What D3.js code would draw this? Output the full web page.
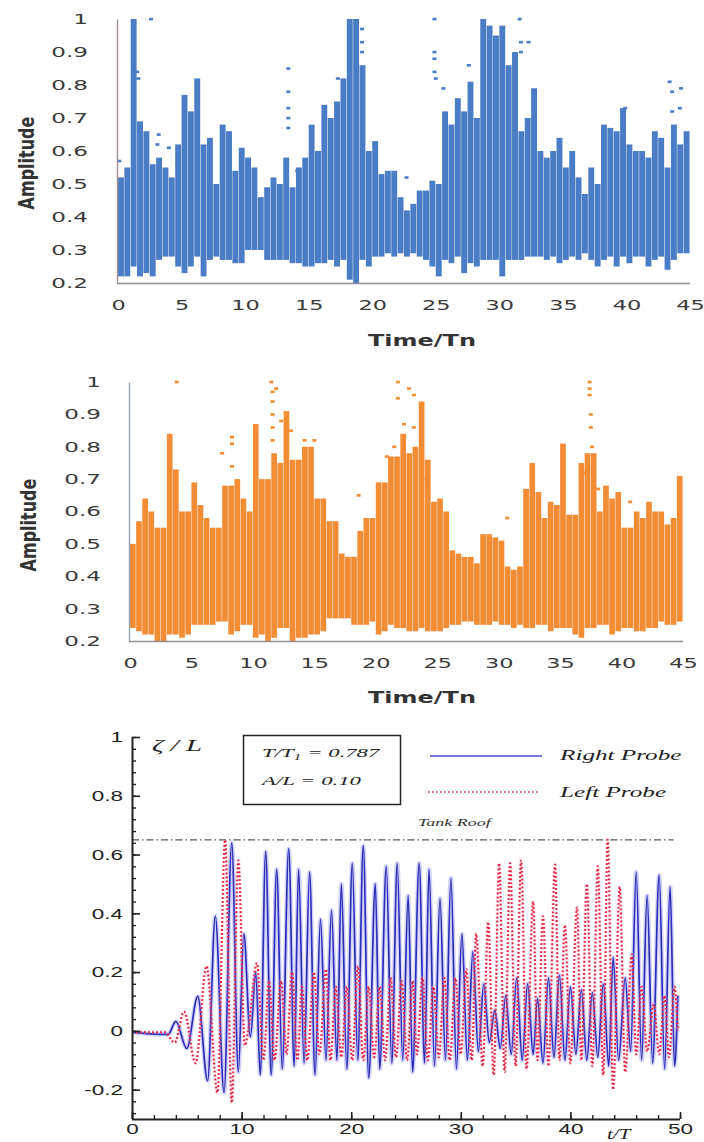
<!DOCTYPE html>
<html>
<head>
<meta charset="utf-8">
<script src="https://cdn.jsdelivr.net/npm/d3@7"></script>
<style>
  body { margin: 0; background: #fff; }
  svg { display: block; }
</style>
</head>
<body>
<svg id="chart" width="704" height="1142"></svg>
<script>
// ---- Amplitude records (sampled every half period, Time/Tn) ----
const sampleStep = 0.5;
const ampTime = d3.range(0, 45, sampleStep);

// upper panel (blue): column tops and bottoms
const blueHigh = [
  0.52, 0.55, 1.00, 0.69, 0.66, 0.56, 0.58, 0.55, 0.52, 0.62,
  0.77, 0.72, 0.82, 0.62, 0.64, 0.50, 0.68, 0.66, 0.54, 0.61,
  0.58, 0.55, 0.46, 0.49, 0.52, 0.50, 0.58, 0.49, 0.55, 0.58,
  0.68, 0.60, 0.74, 0.70, 0.75, 0.82, 1.00, 1.00, 0.86, 0.60,
  0.63, 0.53, 0.54, 0.54, 0.46, 0.42, 0.44, 0.48, 0.48, 0.51,
  0.50, 0.72, 0.68, 0.76, 0.72, 0.81, 0.70, 1.00, 0.98, 0.95,
  0.98, 0.86, 0.90, 0.66, 0.70, 0.79, 0.60, 0.58, 0.60, 0.64,
  0.55, 0.60, 0.52, 0.47, 0.55, 0.50, 0.68, 0.67, 0.66, 0.73,
  0.62, 0.60, 0.60, 0.58, 0.66, 0.64, 0.55, 0.68, 0.62, 0.66
];
const blueLow = [
  0.22, 0.22, 0.25, 0.22, 0.23, 0.22, 0.27, 0.28, 0.28, 0.25,
  0.23, 0.25, 0.28, 0.22, 0.27, 0.28, 0.27, 0.27, 0.26, 0.26,
  0.30, 0.30, 0.30, 0.27, 0.27, 0.27, 0.27, 0.26, 0.26, 0.25,
  0.25, 0.26, 0.26, 0.27, 0.25, 0.27, 0.21, 0.20, 0.27, 0.25,
  0.28, 0.28, 0.29, 0.28, 0.29, 0.28, 0.29, 0.28, 0.27, 0.25,
  0.22, 0.27, 0.26, 0.28, 0.23, 0.26, 0.25, 0.27, 0.27, 0.27,
  0.22, 0.27, 0.27, 0.27, 0.28, 0.28, 0.28, 0.27, 0.28, 0.26,
  0.27, 0.28, 0.27, 0.29, 0.27, 0.25, 0.27, 0.28, 0.25, 0.28,
  0.26, 0.28, 0.28, 0.25, 0.27, 0.28, 0.24, 0.27, 0.29, 0.29
];
// isolated samples above the columns [time, amplitude]
const blueSpikes = [
  [0.1, 0.57], [1.5, 0.84], [1.6, 0.82], [2.6, 1.0], [3.2, 0.65], [3.1, 0.62], [4.0, 0.61],
  [13.4, 0.85], [13.4, 0.78], [13.4, 0.73], [13.4, 0.70], [13.4, 0.67], [14.1, 0.54],
  [17.3, 0.82], [19.2, 0.97], [19.2, 0.93], [19.2, 0.90], [22.7, 0.52],
  [24.9, 1.0], [24.9, 0.90], [24.9, 0.88], [24.9, 0.84], [25.0, 0.82], [25.6, 0.79], [27.6, 0.86],
  [31.6, 1.0], [31.7, 0.93], [31.7, 0.90], [32.3, 0.93], [39.9, 0.73],
  [43.4, 0.81], [43.6, 0.78], [43.6, 0.72], [44.3, 0.79], [44.2, 0.73]
];

// middle panel (orange): column tops and bottoms
const orangeHigh = [
  0.50, 0.57, 0.64, 0.60, 0.55, 0.55, 0.84, 0.73, 0.60, 0.60,
  0.69, 0.62, 0.58, 0.55, 0.55, 0.68, 0.68, 0.70, 0.64, 0.60,
  0.87, 0.70, 0.70, 0.78, 0.75, 0.91, 0.76, 0.76, 0.80, 0.80,
  0.64, 0.64, 0.57, 0.57, 0.47, 0.46, 0.46, 0.54, 0.58, 0.58,
  0.69, 0.69, 0.77, 0.77, 0.84, 0.78, 0.80, 0.94, 0.76, 0.63,
  0.64, 0.60, 0.48, 0.47, 0.46, 0.46, 0.44, 0.53, 0.53, 0.52,
  0.51, 0.43, 0.42, 0.43, 0.67, 0.75, 0.66, 0.58, 0.63, 0.62,
  0.81, 0.59, 0.59, 0.75, 0.78, 0.78, 0.60, 0.68, 0.64, 0.66,
  0.55, 0.55, 0.60, 0.58, 0.63, 0.60, 0.60, 0.56, 0.58, 0.71
];
const orangeLow = [
  0.24, 0.23, 0.22, 0.22, 0.20, 0.20, 0.22, 0.22, 0.21, 0.22,
  0.25, 0.25, 0.25, 0.25, 0.26, 0.26, 0.22, 0.23, 0.25, 0.25,
  0.21, 0.22, 0.20, 0.21, 0.24, 0.24, 0.20, 0.21, 0.21, 0.22,
  0.22, 0.23, 0.27, 0.27, 0.27, 0.27, 0.25, 0.25, 0.25, 0.26,
  0.22, 0.23, 0.25, 0.24, 0.24, 0.23, 0.23, 0.24, 0.23, 0.23,
  0.23, 0.24, 0.25, 0.25, 0.26, 0.26, 0.25, 0.25, 0.25, 0.26,
  0.25, 0.25, 0.24, 0.25, 0.24, 0.24, 0.25, 0.25, 0.23, 0.24,
  0.24, 0.24, 0.22, 0.21, 0.24, 0.24, 0.25, 0.25, 0.22, 0.23,
  0.24, 0.24, 0.23, 0.23, 0.24, 0.24, 0.26, 0.25, 0.25, 0.26
];
const orangeSpikes = [
  [3.8, 1.0], [7.5, 0.78], [8.3, 0.83], [8.3, 0.81], [8.3, 0.74],
  [11.5, 1.0], [11.6, 0.97], [11.6, 0.94], [11.6, 0.90], [11.6, 0.86], [11.6, 0.82], [11.9, 0.98],
  [12.3, 0.88], [13.1, 0.85], [14.2, 0.82], [15.0, 0.82], [18.6, 0.65],
  [20.9, 0.77], [21.5, 0.80], [21.8, 1.0], [21.8, 0.95], [22.3, 0.87],
  [22.7, 0.98], [23.1, 0.96], [23.1, 0.86], [23.8, 0.70], [30.7, 0.58],
  [36.9, 0.72], [37.4, 1.0], [37.4, 0.98], [37.4, 0.96], [37.5, 0.90], [37.5, 0.86], [37.6, 0.80],
  [38.1, 0.67], [40.7, 0.63]
];

// ---- Free-surface elevation ζ/L at the probes: successive crests and troughs [t/T, ζ/L] ----
const rightProbe = [
  [0, -0.005], [2.6, -0.012], [3.3, -0.012], [4.0, 0.032], [5.0, -0.06], [6.0, 0.117],
  [6.9, -0.17], [7.6, 0.39], [8.4, -0.21], [9.1, 0.64], [9.7, -0.14], [10.2, 0.33],
  [10.8, -0.02], [11.3, 0.2], [11.7, -0.15], [12.2, 0.61], [12.7, -0.15], [13.2, 0.55],
  [13.7, -0.13], [14.3, 0.62], [14.8, -0.12], [15.2, 0.55], [15.7, -0.11], [16.2, 0.54],
  [16.7, -0.15], [17.2, 0.38], [17.7, -0.1], [18.2, 0.41], [18.7, -0.1], [19.1, 0.5],
  [19.6, -0.13], [20.1, 0.57], [20.6, -0.1], [21.1, 0.63], [21.6, -0.16], [22.2, 0.5],
  [22.6, -0.13], [23.2, 0.56], [23.7, -0.11], [24.2, 0.57], [24.7, -0.1], [25.2, 0.46],
  [25.6, -0.14], [26.2, 0.57], [26.7, -0.11], [27.1, 0.55], [27.6, -0.12], [28.1, 0.45],
  [28.6, -0.1], [29.1, 0.52], [29.6, -0.13], [30.1, 0.33], [30.6, -0.1], [31.1, 0.27],
  [31.6, -0.07], [32.1, 0.16], [32.6, -0.04], [33.1, 0.07], [33.6, -0.06], [34.1, 0.12],
  [34.6, -0.08], [35.1, 0.18], [35.6, -0.1], [36.1, 0.16], [36.6, -0.08], [37.0, 0.11],
  [37.5, -0.11], [38.0, 0.18], [38.5, -0.09], [39.0, 0.19], [39.5, -0.1], [40.0, 0.15],
  [40.5, -0.08], [41.0, 0.14], [41.5, -0.1], [42.0, 0.13], [42.5, -0.09], [43.0, 0.16],
  [43.5, -0.12], [43.9, 0.25], [44.4, -0.1], [45.0, 0.18], [45.5, -0.07], [46.0, 0.54],
  [46.5, -0.1], [47.0, 0.46], [47.5, -0.11], [48.1, 0.53], [48.6, -0.13], [49.1, 0.49],
  [49.5, -0.12], [49.8, 0.12]
];
const leftProbe = [
  [0, -0.005], [3.0, -0.005], [3.9, -0.04], [4.75, 0.065], [5.8, -0.11], [6.8, 0.22],
  [7.8, -0.21], [8.5, 0.65], [9.1, -0.245], [9.7, 0.58], [10.3, -0.05], [10.6, 0.0],
  [11.4, 0.23], [12.0, -0.1], [12.5, 0.17], [13.0, -0.1], [13.6, 0.17], [14.1, -0.08],
  [14.6, 0.2], [15.1, -0.1], [15.5, 0.15], [16.0, -0.1], [16.6, 0.2], [17.1, -0.08],
  [17.7, 0.21], [18.1, -0.1], [18.6, 0.15], [19.1, -0.09], [19.6, 0.15], [20.1, -0.1],
  [20.6, 0.22], [21.1, -0.1], [21.6, 0.15], [22.1, -0.09], [22.6, 0.15], [23.1, -0.1],
  [23.6, 0.18], [24.1, -0.09], [24.6, 0.17], [25.1, -0.1], [25.6, 0.17], [26.0, -0.08],
  [26.5, 0.18], [27.0, -0.1], [27.5, 0.15], [28.0, -0.09], [28.5, 0.18], [29.0, -0.1],
  [29.5, 0.18], [30.0, -0.08], [30.5, 0.21], [31.0, -0.1], [31.4, 0.33], [32.0, -0.12],
  [32.5, 0.37], [33.0, -0.15], [33.5, 0.57], [34.0, -0.14], [34.5, 0.57], [35.0, -0.12],
  [35.5, 0.58], [36.0, -0.13], [36.6, 0.44], [37.0, -0.1], [37.5, 0.39], [38.0, -0.12],
  [38.6, 0.565], [39.0, -0.1], [39.5, 0.36], [40.0, -0.11], [40.6, 0.42], [41.0, -0.1],
  [41.5, 0.5], [42.0, -0.12], [42.5, 0.56], [43.0, -0.15], [43.4, 0.65], [43.9, -0.2],
  [44.5, 0.49], [45.0, -0.14], [45.6, 0.26], [46.0, -0.08], [46.5, 0.15], [47.0, -0.07],
  [47.6, 0.09], [48.1, -0.08], [48.6, 0.12], [49.0, -0.09], [49.5, 0.15], [49.8, 0.0]
];
const tankRoof = 0.65;
const caseLabels = ["= 0.787", "A/L = 0.10"];
const probeNames = ["Right Probe", "Left Probe"];

// ---- tick values ----
const ampTicks = [0.2, 0.3, 0.4, 0.5, 0.6, 0.7, 0.8, 0.9, 1];
const timeTicks = [0, 5, 10, 15, 20, 25, 30, 35, 40, 45];
const zetaTicks = [-0.2, 0, 0.2, 0.4, 0.6, 0.8, 1];
const tTicks = [0, 10, 20, 30, 40, 50];

const svg = d3.select("#chart");
svg.append("rect").attr("width", 704).attr("height", 1142).attr("fill", "#fff");

const numFmt = d => String(Number((+d).toFixed(1)));

// wide text helper: horizontal stretch around the anchor point
function wideText(parent, str, x, y, sx, style) {
  const t = parent.append("text")
    .attr("transform", `translate(${x},${y}) scale(${sx},1)`)
    .text(str);
  Object.entries(style || {}).forEach(([k, v]) => t.attr(k, v));
  return t;
}

// ---------- amplitude panels ----------
function amplitudePanel(cfg) {
  const g = svg.append("g");
  const x = d3.scaleLinear([0, 45], cfg.xRange);
  const y = d3.scaleLinear([0.2, 1], cfg.yRange);
  const rows = ampTime.map((t, i) => ({ t, hi: cfg.high[i], lo: cfg.low[i] }));

  g.append("g").selectAll("rect").data(rows).join("rect")
    .attr("x", d => x(d.t))
    .attr("width", d => x(d.t + sampleStep) - x(d.t) - 0.45)
    .attr("y", d => y(d.hi))
    .attr("height", d => y(d.lo) - y(d.hi))
    .attr("fill", cfg.color);

  g.append("g").selectAll("rect").data(cfg.spikes).join("rect")
    .attr("x", d => x(d[0]) - 2)
    .attr("y", d => y(d[1]) - 1.2)
    .attr("width", 4).attr("height", 2.6)
    .attr("fill", cfg.color);

  const yAx = g.append("g")
    .attr("transform", `translate(${cfg.xRange[0] - 1},0)`)
    .call(d3.axisLeft(y).tickValues(ampTicks).tickSize(0).tickSizeOuter(0).tickFormat(numFmt));
  yAx.select(".domain").attr("stroke", cfg.axisColor).attr("stroke-width", 1.4);
  yAx.selectAll("text")
    .attr("x", -cfg.labelGap / 1.65)
    .attr("transform", "scale(1.65,1)")
    .attr("font-family", "DejaVu Sans, Verdana, sans-serif")
    .attr("font-size", 14).attr("fill", "#3a3a3a");

  const xAx = g.append("g")
    .attr("transform", `translate(0,${cfg.yRange[0]})`)
    .call(d3.axisBottom(x).tickValues(timeTicks).tickSize(0).tickSizeOuter(0).tickPadding(17));
  xAx.select(".domain").attr("stroke", "#8f8f8f").attr("stroke-width", 1.6)
    .attr("d", `M${cfg.xRange[0] - 1},0.5H${cfg.xRange[1]}`);
  xAx.selectAll("text")
    .attr("transform", "scale(1.6,1)")
    .attr("font-family", "DejaVu Sans, Verdana, sans-serif")
    .attr("font-size", 14).attr("fill", "#3a3a3a");

  wideText(g, "Time/Tn", 422, cfg.titleY, 1.5, {
    "text-anchor": "middle", "font-family": "DejaVu Sans, Verdana, sans-serif",
    "font-weight": "bold", "font-size": 16, "fill": "#333"
  });
  g.append("text")
    .attr("transform", `translate(${cfg.ampX},${cfg.ampY}) rotate(-90) scale(1,1.35)`)
    .attr("text-anchor", "middle")
    .attr("font-family", "DejaVu Sans, Arial, sans-serif")
    .attr("font-weight", "bold").attr("font-size", 16).attr("fill", "#333")
    .text("Amplitude");
}

amplitudePanel({
  high: blueHigh, low: blueLow, spikes: blueSpikes, color: "#4a7dc6",
  xRange: [118, 690], yRange: [283, 19], labelGap: 29, axisColor: "#a39191",
  titleY: 346, ampX: 34, ampY: 163
});
amplitudePanel({
  high: orangeHigh, low: orangeLow, spikes: orangeSpikes, color: "#f28c35",
  xRange: [130, 683], yRange: [641, 382], labelGap: 28, axisColor: "#8ea3b6",
  titleY: 703, ampX: 36, ampY: 525
});

// ---------- sloshing elevation panel ----------
const g3 = svg.append("g");
const x3 = d3.scaleLinear([0, 50], [132, 680]);
const y3 = d3.scaleLinear([-0.3, 1], [1119, 737]);

g3.append("clipPath").attr("id", "plotClip")
  .append("rect").attr("x", 133).attr("y", 730).attr("width", 560).attr("height", 389);

// tank roof
g3.append("line")
  .attr("x1", x3(0)).attr("x2", x3(49.4))
  .attr("y1", y3(tankRoof)).attr("y2", y3(tankRoof))
  .attr("stroke", "#555").attr("stroke-width", 1.2)
  .attr("stroke-dasharray", "7,3,1.5,3");
wideText(g3, "Tank Roof", 418, 826, 1.8, {
  "font-family": "Liberation Serif, Times New Roman, serif", "font-style": "italic",
  "font-size": 10, "fill": "#333"
});

const waveLine = d3.line().x(d => x3(d[0])).y(d => y3(d[1])).curve(d3.curveMonotoneX);
const waves = g3.append("g").attr("clip-path", "url(#plotClip)");

waves.append("path").attr("d", waveLine(rightProbe))
  .attr("fill", "none").attr("stroke", "#9d9df2").attr("stroke-width", 4.5)
  .attr("stroke-opacity", 0.45);
waves.append("path").attr("d", waveLine(rightProbe))
  .attr("fill", "none").attr("stroke", "#2d2db9").attr("stroke-width", 1.7);

waves.append("path").attr("d", waveLine(leftProbe))
  .attr("fill", "none").attr("stroke", "#f4a3c0").attr("stroke-width", 4)
  .attr("stroke-opacity", 0.35).attr("stroke-dasharray", "2.5,1.5");
waves.append("path").attr("d", waveLine(leftProbe))
  .attr("fill", "none").attr("stroke", "#e0223e").attr("stroke-width", 2)
  .attr("stroke-dasharray", "1.8,2.2");

// axes: major and minor ticks pointing inward
const axisFont = "Liberation Sans, Arial, sans-serif";
const yMinor = g3.append("g").attr("transform", `translate(${x3(0)},0)`)
  .call(d3.axisLeft(y3).tickValues(d3.range(-7, 26).map(k => k * 0.04)).tickSize(-4).tickFormat(""));
yMinor.select(".domain").remove();
yMinor.selectAll("line").attr("stroke", "#222").attr("stroke-width", 1.4);

const yMajor = g3.append("g").attr("transform", `translate(${x3(0)},0)`)
  .call(d3.axisLeft(y3).tickValues(zetaTicks).tickSize(-8).tickSizeOuter(0).tickFormat(numFmt));
yMajor.select(".domain").attr("stroke", "#222").attr("stroke-width", 2)
  .attr("d", `M0.5,${y3(1)}V${y3(-0.3)}`);
yMajor.selectAll("line").attr("stroke", "#222").attr("stroke-width", 1.6);
yMajor.selectAll("text")
  .attr("x", -9 / 1.5).attr("transform", "scale(1.5,1)")
  .attr("font-family", axisFont).attr("font-size", 15).attr("fill", "#222");

const xMinor = g3.append("g").attr("transform", `translate(0,${y3(-0.3)})`)
  .call(d3.axisBottom(x3).tickValues(d3.range(0, 51, 2)).tickSize(-4).tickFormat(""));
xMinor.select(".domain").remove();
xMinor.selectAll("line").attr("stroke", "#222").attr("stroke-width", 1.4);

const xMajor = g3.append("g").attr("transform", `translate(0,${y3(-0.3)})`)
  .call(d3.axisBottom(x3).tickValues(tTicks).tickSize(-7).tickSizeOuter(0).tickPadding(4));
xMajor.select(".domain").attr("stroke", "#222").attr("stroke-width", 2)
  .attr("d", `M${x3(0)},0.5H${x3(50)}`);
xMajor.selectAll("line").attr("stroke", "#222").attr("stroke-width", 1.6);
xMajor.selectAll("text")
  .attr("transform", "scale(1.5,1)")
  .attr("font-family", axisFont).attr("font-size", 15).attr("fill", "#222");

const serif = "Liberation Serif, Times New Roman, serif";
wideText(g3, "ζ / L", 152, 751, 1.8, {
  "font-family": serif, "font-style": "italic", "font-size": 16, "fill": "#222"
});
wideText(g3, "t/T", 607, 1139, 1.5, {
  "font-family": serif, "font-style": "italic", "font-size": 14, "fill": "#222"
});

// case parameters box
g3.append("rect").attr("x", 243.5).attr("y", 735.5).attr("width", 157).attr("height", 69)
  .attr("fill", "#fff").attr("stroke", "#222").attr("stroke-width", 1.5);
const ratio = wideText(g3, "T/T", 262, 757, 1.75, {
  "font-family": serif, "font-style": "italic", "font-size": 13, "fill": "#222"
});
ratio.append("tspan").attr("font-size", 9).attr("dy", 3).text("1");
ratio.append("tspan").attr("dy", -3).text(" " + caseLabels[0]);
wideText(g3, caseLabels[1], 262, 785, 1.75, {
  "font-family": serif, "font-style": "italic", "font-size": 13, "fill": "#222"
});

// legend
g3.append("line").attr("x1", 430).attr("x2", 542).attr("y1", 756).attr("y2", 756)
  .attr("stroke", "#4a4ad6").attr("stroke-width", 1.6);
g3.append("line").attr("x1", 428).attr("x2", 540).attr("y1", 792).attr("y2", 792)
  .attr("stroke", "#d8304c").attr("stroke-width", 1.5).attr("stroke-dasharray", "1.6,2.4");
wideText(g3, probeNames[0], 560, 760, 1.8, {
  "font-family": serif, "font-style": "italic", "font-size": 14, "fill": "#222"
});
wideText(g3, probeNames[1], 560, 797, 1.8, {
  "font-family": serif, "font-style": "italic", "font-size": 14, "fill": "#222"
});
</script>
</body>
</html>
